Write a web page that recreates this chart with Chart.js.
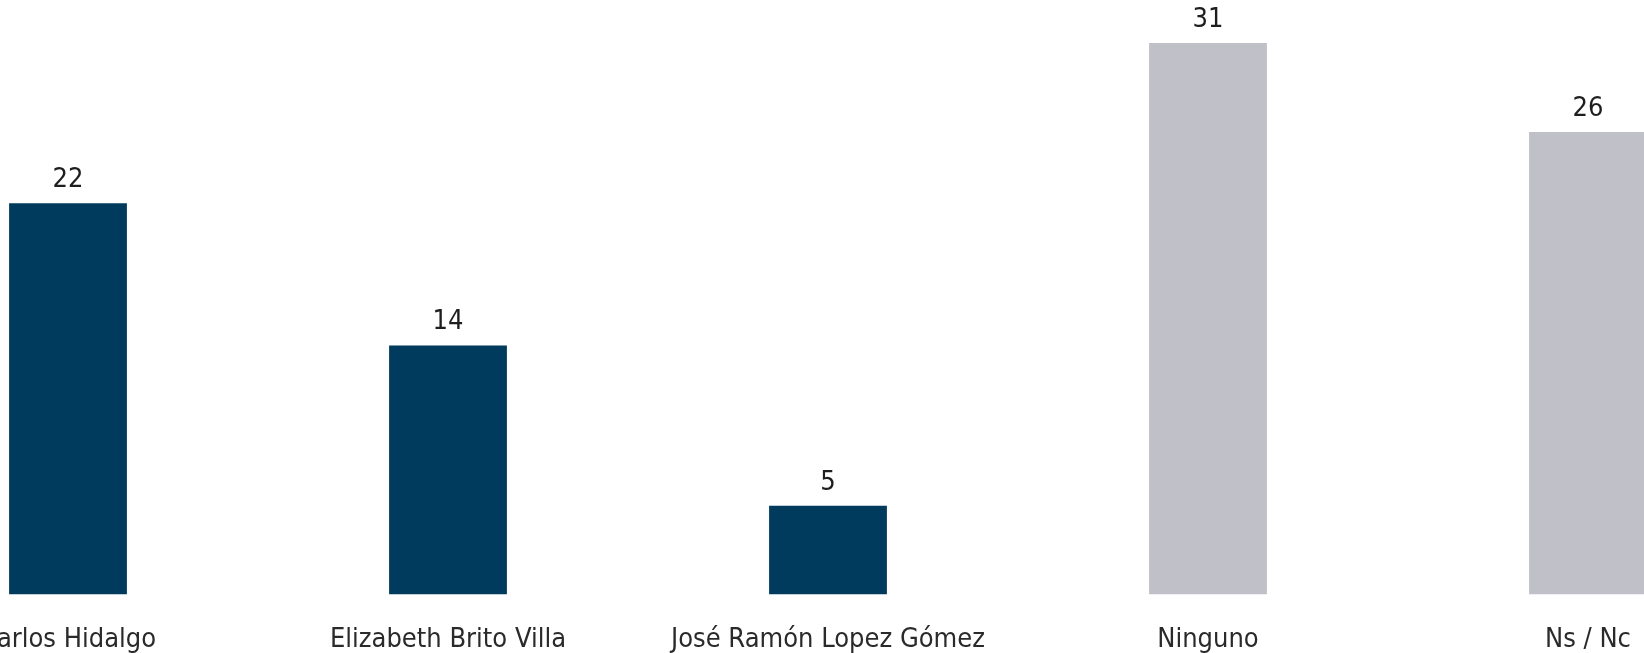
<!DOCTYPE html>
<html>
<head>
<meta charset="utf-8">
<script src="https://cdn.jsdelivr.net/npm/chart.js@4/dist/chart.umd.min.js"></script>
<style>
  html, body { margin: 0; padding: 0; background: #ffffff; overflow: hidden; width: 1644px; height: 653px; }
  #wrap { position: absolute; left: -122px; top: 0; width: 1900px; height: 686px; }
</style>
</head>
<body>
<div id="wrap"><canvas id="mainChart"></canvas></div>
<script>
const categorias = ["Carlos Hidalgo", "Elizabeth Brito Villa", "José Ramón Lopez Gómez", "Ninguno", "Ns / Nc"];
const valores = [22, 14, 5, 31, 26];
const cores = ["#003a5c", "#003a5c", "#003a5c", "#bfc0c8", "#bfc0c8"];

const FONTE = "'Liberation Sans Narrow', 'DejaVu Sans Condensed', sans-serif";

// rotulos de valor em cima das barras
const rotulosValor = {
  id: "rotulosValor",
  afterDatasetsDraw(chart) {
    const c = chart.ctx;
    const meta = chart.getDatasetMeta(0);
    c.save();
    c.font = `27px ${FONTE}`;
    c.fillStyle = "#1e1e1e";
    c.textAlign = "center";
    c.textBaseline = "alphabetic";
    meta.data.forEach((bar, i) => {
      c.fillText(String(valores[i]), bar.x, bar.y - 16);
    });
    c.restore();
  }
};

const ctx = document.getElementById("mainChart").getContext("2d");

new Chart(ctx, {
  type: "bar",
  data: {
    labels: categorias,
    datasets: [{
      data: valores,
      backgroundColor: cores,
      barPercentage: 0.31,
      categoryPercentage: 1
    }]
  },
  options: {
    responsive: true,
    maintainAspectRatio: false,
    animation: false,
    layout: { padding: { top: 43, bottom: 9, left: 0, right: 0 } },
    plugins: {
      legend: { display: false },
      tooltip: { enabled: false }
    },
    scales: {
      x: {
        grid: { display: false },
        border: { display: false },
        ticks: {
          color: "#2a2a2a",
          padding: 21,
          maxRotation: 0,
          autoSkip: false,
          font: { family: FONTE, size: 27 }
        }
      },
      y: {
        display: false,
        min: 0,
        max: 31
      }
    }
  },
  plugins: [rotulosValor]
});
</script>
</body>
</html>
